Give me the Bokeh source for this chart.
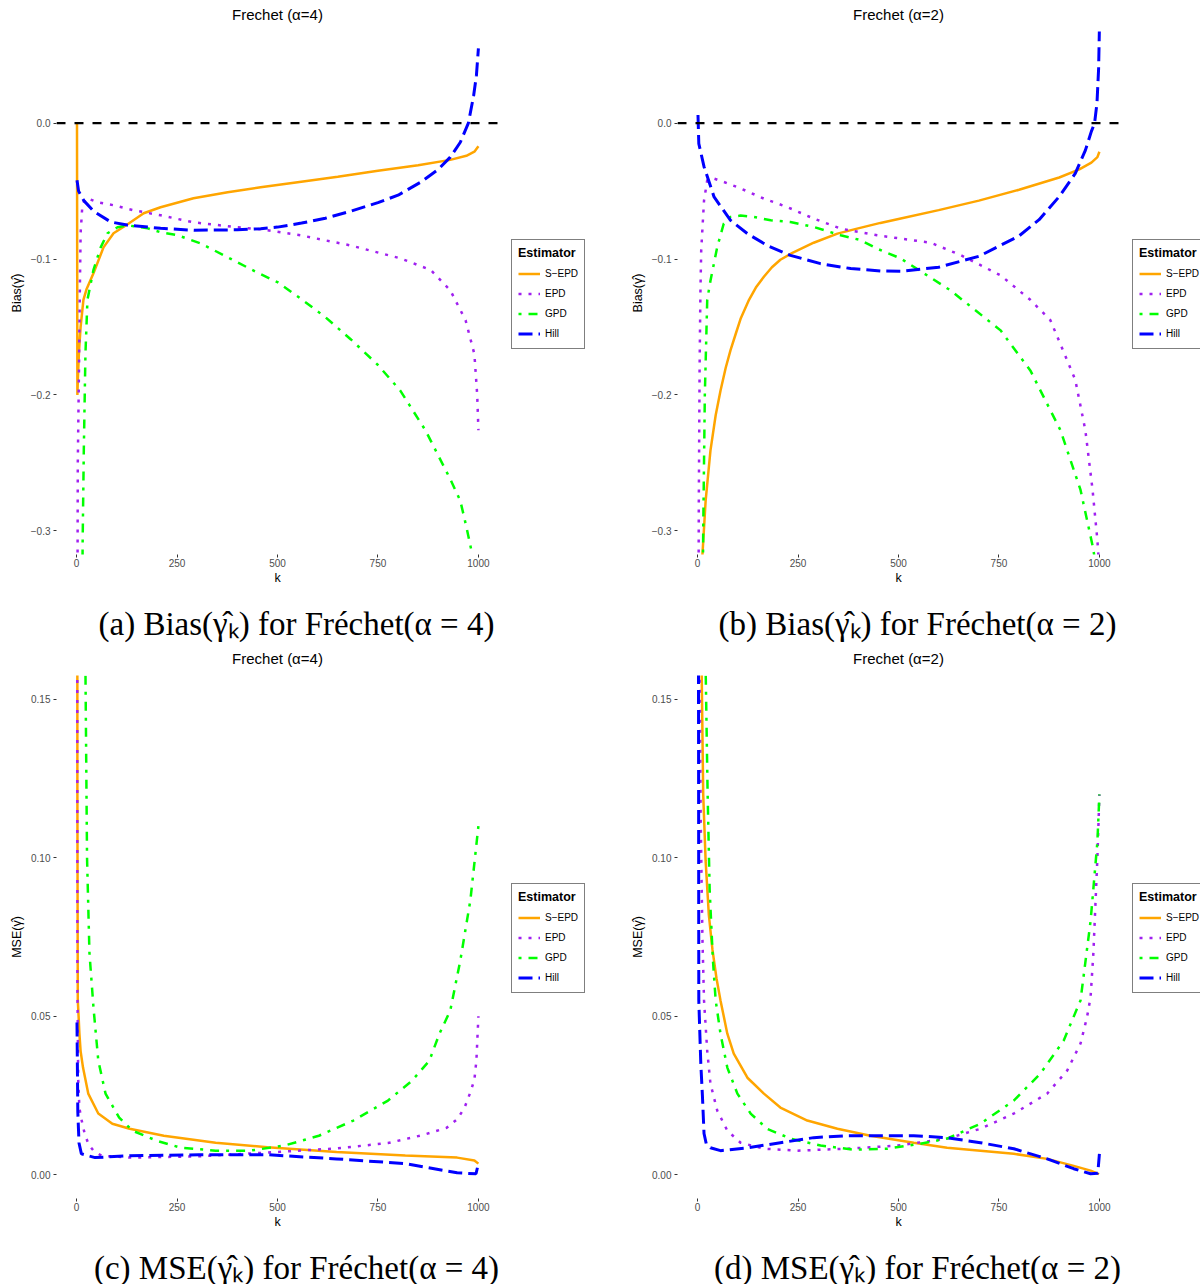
from bokeh.plotting import figure
from bokeh.layouts import column, row
from bokeh.models import Label, Legend, LegendItem, FixedTicker, Range1d, CustomJSTickFormatter
from bokeh.embed import file_html
from bokeh.resources import INLINE

# ---------------- data ----------------
estimators = ["S\u2212EPD", "EPD", "GPD", "Hill"]
colors = ["#FFA500", "#A020F0", "#00FF00", "#0000FF"]

k_ticks = [0, 250, 500, 750, 1000]
bias_ticks = [-0.3, -0.2, -0.1, 0.0]
bias_tick_labels = ["\u22120.3", "\u22120.2", "\u22120.1", "0.0"]
mse_ticks = [0.0, 0.05, 0.10, 0.15]
mse_tick_labels = ["0.00", "0.05", "0.10", "0.15"]
ref_bias = 0.0

titles = ["Frechet (\u03b1=4)", "Frechet (\u03b1=2)", "Frechet (\u03b1=4)", "Frechet (\u03b1=2)"]
captions = ["(a) Bias(\u03b3\u0302\u2096) for Fr\u00e9chet(\u03b1 = 4)",
            "(b) Bias(\u03b3\u0302\u2096) for Fr\u00e9chet(\u03b1 = 2)",
            "(c) MSE(\u03b3\u0302\u2096) for Fr\u00e9chet(\u03b1 = 4)",
            "(d) MSE(\u03b3\u0302\u2096) for Fr\u00e9chet(\u03b1 = 2)"]

# Panel (a): Bias, alpha = 4
a_sepd_k = [1, 2, 3, 6, 10, 17, 25, 42, 67, 92, 127, 167, 209, 291, 376, 458, 550, 650, 750, 850, 930, 970, 990, 1000]
a_sepd_v = [0.0, -0.20, -0.19, -0.168, -0.150, -0.130, -0.122, -0.1105, -0.0914, -0.081, -0.0744, -0.0663, -0.0619,
            -0.0553, -0.0508, -0.0472, -0.0435, -0.0395, -0.035, -0.031, -0.027, -0.024, -0.021, -0.017]
a_epd_k = [1, 3, 6, 8, 10, 14, 20, 27, 50, 92, 142, 209, 291, 400, 458, 557, 682, 806, 881, 930, 968, 990, 997, 1000]
a_epd_v = [-0.5, -0.25, -0.18, -0.125, -0.081, -0.062, -0.056, -0.0553, -0.058, -0.0604, -0.0641, -0.0678, -0.073,
           -0.0766, -0.0781, -0.0825, -0.090, -0.0995, -0.108, -0.123, -0.145, -0.17, -0.20, -0.226]
a_gpd_k = [12, 15, 18, 22, 27, 42, 60, 77, 102, 127, 177, 209, 251, 308, 376, 450, 500, 557, 620, 682, 750, 806,
           868, 930, 955, 970, 985, 1000]
a_gpd_v = [-0.5, -0.31, -0.24, -0.17, -0.130, -0.108, -0.0914, -0.081, -0.0766, -0.0752, -0.0774, -0.0803, -0.0825,
           -0.0884, -0.0987, -0.110, -0.117, -0.129, -0.143, -0.159, -0.178, -0.197, -0.226, -0.262, -0.278, -0.297,
           -0.318, -0.34]
a_hill_k = [1, 5, 18, 43, 85, 126, 209, 292, 400, 458, 500, 560, 619, 680, 750, 800, 856, 900, 930, 955, 975, 988,
            995, 1000]
a_hill_v = [-0.042, -0.050, -0.057, -0.065, -0.0727, -0.075, -0.0774, -0.0788, -0.0785, -0.0777, -0.0765, -0.0735,
            -0.070, -0.065, -0.0585, -0.053, -0.0435, -0.034, -0.025, -0.014, 0.0, 0.02, 0.035, 0.055]

# Panel (b): Bias, alpha = 2
b_sepd_k = [8, 12, 20, 32, 45, 57, 70, 82, 95, 107, 128, 145, 165, 185, 206, 236, 289, 348, 397, 455, 500, 600, 700,
            800, 900, 950, 980, 995, 1000]
b_sepd_v = [-0.40, -0.318, -0.278, -0.241, -0.215, -0.197, -0.180, -0.167, -0.155, -0.144, -0.130, -0.121, -0.113,
            -0.106, -0.1005, -0.0955, -0.088, -0.0813, -0.0776, -0.0734, -0.0705, -0.064, -0.057, -0.049, -0.040,
            -0.034, -0.029, -0.025, -0.021]
b_epd_k = [1, 3, 5, 7, 9, 16, 24, 41, 65, 107, 165, 223, 289, 356, 447, 580, 654, 754, 828, 878, 940, 965, 983,
           995, 1000]
b_epd_v = [-0.5, -0.28, -0.18, -0.125, -0.0936, -0.057, -0.042, -0.0408, -0.0432, -0.048, -0.0555, -0.0617, -0.0702,
           -0.0776, -0.0825, -0.088, -0.097, -0.112, -0.130, -0.145, -0.189, -0.226, -0.27, -0.307, -0.33]
b_gpd_k = [10, 14, 18, 24, 32, 49, 65, 82, 107, 140, 182, 231, 289, 356, 405, 447, 505, 629, 754, 828, 903, 953,
           983, 1000]
b_gpd_v = [-0.45, -0.30, -0.20, -0.130, -0.116, -0.091, -0.074, -0.069, -0.068, -0.069, -0.0715, -0.0727, -0.0764,
           -0.0825, -0.086, -0.0924, -0.0995, -0.123, -0.1525, -0.182, -0.226, -0.270, -0.311, -0.34]
b_hill_k = [1, 3, 16, 41, 82, 124, 173, 231, 306, 381, 455, 505, 600, 700, 800, 850, 900, 940, 965, 980, 988, 994,
            998, 1000]
b_hill_v = [0.006, -0.015, -0.032, -0.0543, -0.0715, -0.0813, -0.090, -0.0973, -0.1034, -0.107, -0.1088, -0.109,
            -0.106, -0.098, -0.083, -0.071, -0.054, -0.037, -0.020, -0.006, 0.0, 0.015, 0.04, 0.07]

# Panel (c): MSE, alpha = 4
c_sepd_k = [1, 2, 3, 5, 7, 10, 16, 29, 54, 89, 132, 217, 346, 475, 647, 818, 947, 990, 1000]
c_sepd_v = [0.5, 0.12, 0.055, 0.05, 0.0445, 0.039, 0.0338, 0.0256, 0.0193, 0.0161, 0.0145, 0.0123, 0.0101, 0.0087,
            0.0072, 0.0061, 0.0054, 0.0045, 0.0035]
c_epd_k = [1, 2, 4, 7, 12, 20, 30, 42, 62, 132, 304, 475, 647, 775, 861, 921, 947, 965, 980, 990, 995, 1000]
c_epd_v = [0.5, 0.06, 0.03, 0.021, 0.0175, 0.013, 0.0095, 0.0076, 0.006, 0.0054, 0.0058, 0.007, 0.0083, 0.0100,
           0.0125, 0.0148, 0.0175, 0.021, 0.026, 0.030, 0.036, 0.050]
c_gpd_k = [18, 22, 26, 32, 42, 54, 72, 106, 139, 200, 260, 346, 432, 517, 603, 689, 775, 835, 878, 903, 930, 955,
           980, 1000]
c_gpd_v = [0.3, 0.16, 0.10, 0.07, 0.0528, 0.036, 0.0256, 0.018, 0.0139, 0.0107, 0.0085, 0.0076, 0.0076, 0.0092,
           0.0123, 0.0171, 0.0234, 0.0297, 0.036, 0.0445, 0.0518, 0.0676, 0.0866, 0.11]
c_hill_k = [1, 3, 6, 12, 46, 132, 304, 475, 647, 818, 947, 994, 1000]
c_hill_v = [0.048, 0.02, 0.01, 0.0066, 0.0054, 0.006, 0.0063, 0.0063, 0.005, 0.0035, 0.0006, 0.0003, 0.0035]

# Panel (d): MSE, alpha = 2
d_sepd_k = [6, 8, 10, 14, 20, 28, 37, 47, 57, 74, 90, 124, 165, 206, 273, 348, 430, 538, 621, 704, 787, 870, 936,
            978, 999]
d_sepd_v = [0.5, 0.3, 0.16, 0.12, 0.099, 0.082, 0.071, 0.062, 0.055, 0.0445, 0.0382, 0.0306, 0.0256, 0.0212, 0.0171,
            0.0145, 0.0123, 0.0101, 0.0085, 0.0076, 0.0066, 0.005, 0.0028, 0.0013, 0.0002]
d_epd_k = [1, 2, 5, 8, 12, 16, 24, 32, 49, 74, 107, 165, 248, 372, 497, 621, 704, 787, 870, 920, 953, 969, 978, 985,
           990, 995, 1000]
d_epd_v = [0.5, 0.3, 0.16, 0.11, 0.075, 0.055, 0.039, 0.0287, 0.0202, 0.0139, 0.0101, 0.0082, 0.0076, 0.0082, 0.0092,
           0.0114, 0.0145, 0.0193, 0.0256, 0.0329, 0.0414, 0.0496, 0.056, 0.07, 0.085, 0.10, 0.12]
d_gpd_k = [16, 20, 25, 30, 38, 45, 57, 74, 99, 132, 173, 231, 306, 389, 472, 555, 621, 704, 787, 853, 911, 953, 978,
           995, 1000]
d_gpd_v = [0.3, 0.16, 0.12, 0.09, 0.068, 0.055, 0.0445, 0.0338, 0.0256, 0.0193, 0.0145, 0.0114, 0.0092, 0.0079,
           0.0082, 0.0098, 0.0114, 0.0161, 0.0234, 0.0319, 0.0423, 0.055, 0.080, 0.105, 0.12]
d_hill_k = [1, 2, 3, 8, 12, 16, 22, 32, 57, 124, 206, 289, 372, 455, 538, 621, 704, 787, 870, 936, 978, 996, 1000]
d_hill_v = [0.5, 0.2, 0.055, 0.035, 0.025, 0.013, 0.0095, 0.0085, 0.0076, 0.0085, 0.0101, 0.0117, 0.0123, 0.0123,
            0.0123, 0.0117, 0.0101, 0.0082, 0.005, 0.0019, 0.0003, 0.0005, 0.0066]

# ---------------- layout / styling ----------------
line_dashes = ["solid", "3 7", "3 7 9 7", "14 6"]
line_widths = [2.5, 2.5, 2.5, 3.0]
SANS = "Liberation Sans"
SERIF = "Liberation Serif"
COL_W = [621, 579]
TITLE_H = 31
PLOT_H = 539
BOT_H = [74, 70]
LEFT = 56
PANEL_PX = 442            # width of the ggplot panel (k from -50 to 1050)
K_LO, K_HI = -50, 1050
K_PER_PX = (K_HI - K_LO) / PANEL_PX


def tick_formatter(vals, labels):
    return CustomJSTickFormatter(args=dict(vals=vals, labels=labels), code="""
        let best = 0;
        for (let i = 0; i < vals.length; i++) {
            if (Math.abs(vals[i] - tick) < Math.abs(vals[best] - tick)) best = i;
        }
        return labels[best];
    """)


def strip(width, height):
    c = figure(width=width, height=height, x_range=Range1d(0, width), y_range=Range1d(0, height),
               min_border=0, x_axis_type=None, y_axis_type=None,
               output_backend="svg", toolbar_location=None, title=None)
    c.outline_line_color = None
    c.background_fill_color = "white"
    c.border_fill_color = "white"
    c.xgrid.visible = False
    c.ygrid.visible = False
    return c


def title_strip(width, text):
    c = strip(width, TITLE_H)
    c.add_layout(Label(x=277, y=TITLE_H - 14, text=text, text_align="center", text_baseline="middle",
                       text_font=SANS, text_font_size="15px", text_color="black"))
    return c


def bottom_strip(width, height, text):
    c = strip(width, height)
    c.add_layout(Label(x=277, y=height - 7, text="k", text_align="center", text_baseline="middle",
                       text_font=SANS, text_font_size="12.5px", text_color="black"))
    c.add_layout(Label(x=296, y=height - 53, text=text, text_align="center", text_baseline="middle",
                       text_font=SERIF, text_font_size="33px", text_color="black"))
    return c


def make_panel(width, yr, yticks, ylabels, ylabel, series, show_ref):
    x_end = K_LO + (width - LEFT) * K_PER_PX
    p = figure(width=width, height=PLOT_H, x_range=Range1d(K_LO, x_end), y_range=Range1d(yr[0], yr[1]),
               min_border_left=LEFT, min_border_right=0, min_border_top=0, min_border_bottom=PLOT_H - 523,
               output_backend="svg", toolbar_location=None, title=None)
    p.background_fill_color = "white"
    p.border_fill_color = "white"
    p.outline_line_color = None
    p.xgrid.visible = False
    p.ygrid.visible = False

    for ax in (p.xaxis[0], p.yaxis[0]):
        ax.axis_line_color = None
        ax.major_tick_line_color = "#333333"
        ax.major_tick_out = 3
        ax.major_tick_in = 0
        ax.minor_tick_line_color = None
        ax.major_label_text_font = SANS
        ax.major_label_text_font_size = "10px"
        ax.major_label_text_color = "#4D4D4D"
        ax.axis_label_text_font = SANS
        ax.axis_label_text_font_size = "12.5px"
        ax.axis_label_text_font_style = "normal"
        ax.axis_label_text_color = "black"
    p.xaxis.ticker = FixedTicker(ticks=k_ticks)
    p.xaxis.major_label_standoff = 1
    p.yaxis.ticker = FixedTicker(ticks=yticks)
    p.yaxis.formatter = tick_formatter(yticks, ylabels)
    p.yaxis.major_label_standoff = 3
    p.yaxis.axis_label = ylabel
    p.yaxis.axis_label_standoff = 4

    items = []
    for (ks, vs), name, col, dash, lw in zip(series, estimators, colors, line_dashes, line_widths):
        r = p.line(ks, vs, line_color=col, line_width=lw, line_dash=dash)
        items.append(LegendItem(label=name, renderers=[r]))

    if show_ref:
        p.segment(x0=[K_LO], y0=[ref_bias], x1=[K_HI], y1=[ref_bias], line_color="black",
                  line_width=2.3, line_dash="9 9")

    legend = Legend(items=items, location=(455, 205), title="Estimator",
                    border_line_color="black", border_line_width=1,
                    background_fill_color="white", background_fill_alpha=1.0,
                    title_text_font=SANS, title_text_font_style="bold", title_text_font_size="12.5px",
                    title_text_color="black",
                    label_text_font=SANS, label_text_font_size="10px", label_text_color="black",
                    padding=6, spacing=3, glyph_width=22, glyph_height=17, label_height=17,
                    label_standoff=5, title_standoff=5, margin=0)
    p.add_layout(legend)
    return p


bias_range = (-0.3175, 0.0675)
mse_range = (-0.0075, 0.1575)

pa = make_panel(COL_W[0], bias_range, bias_ticks, bias_tick_labels, "Bias(\u03b3\u0302)",
                [(a_sepd_k, a_sepd_v), (a_epd_k, a_epd_v), (a_gpd_k, a_gpd_v), (a_hill_k, a_hill_v)], True)
pb = make_panel(COL_W[1], bias_range, bias_ticks, bias_tick_labels, "Bias(\u03b3\u0302)",
                [(b_sepd_k, b_sepd_v), (b_epd_k, b_epd_v), (b_gpd_k, b_gpd_v), (b_hill_k, b_hill_v)], True)
pc = make_panel(COL_W[0], mse_range, mse_ticks, mse_tick_labels, "MSE(\u03b3\u0302)",
                [(c_sepd_k, c_sepd_v), (c_epd_k, c_epd_v), (c_gpd_k, c_gpd_v), (c_hill_k, c_hill_v)], False)
pd_ = make_panel(COL_W[1], mse_range, mse_ticks, mse_tick_labels, "MSE(\u03b3\u0302)",
                 [(d_sepd_k, d_sepd_v), (d_epd_k, d_epd_v), (d_gpd_k, d_gpd_v), (d_hill_k, d_hill_v)], False)

layout = column(
    row(title_strip(COL_W[0], titles[0]), title_strip(COL_W[1], titles[1])),
    row(pa, pb),
    row(bottom_strip(COL_W[0], BOT_H[0], captions[0]), bottom_strip(COL_W[1], BOT_H[0], captions[1])),
    row(title_strip(COL_W[0], titles[2]), title_strip(COL_W[1], titles[3])),
    row(pc, pd_),
    row(bottom_strip(COL_W[0], BOT_H[1], captions[2]), bottom_strip(COL_W[1], BOT_H[1], captions[3])),
)

with open("out.html", "w") as f:
    f.write(file_html(layout, INLINE))
